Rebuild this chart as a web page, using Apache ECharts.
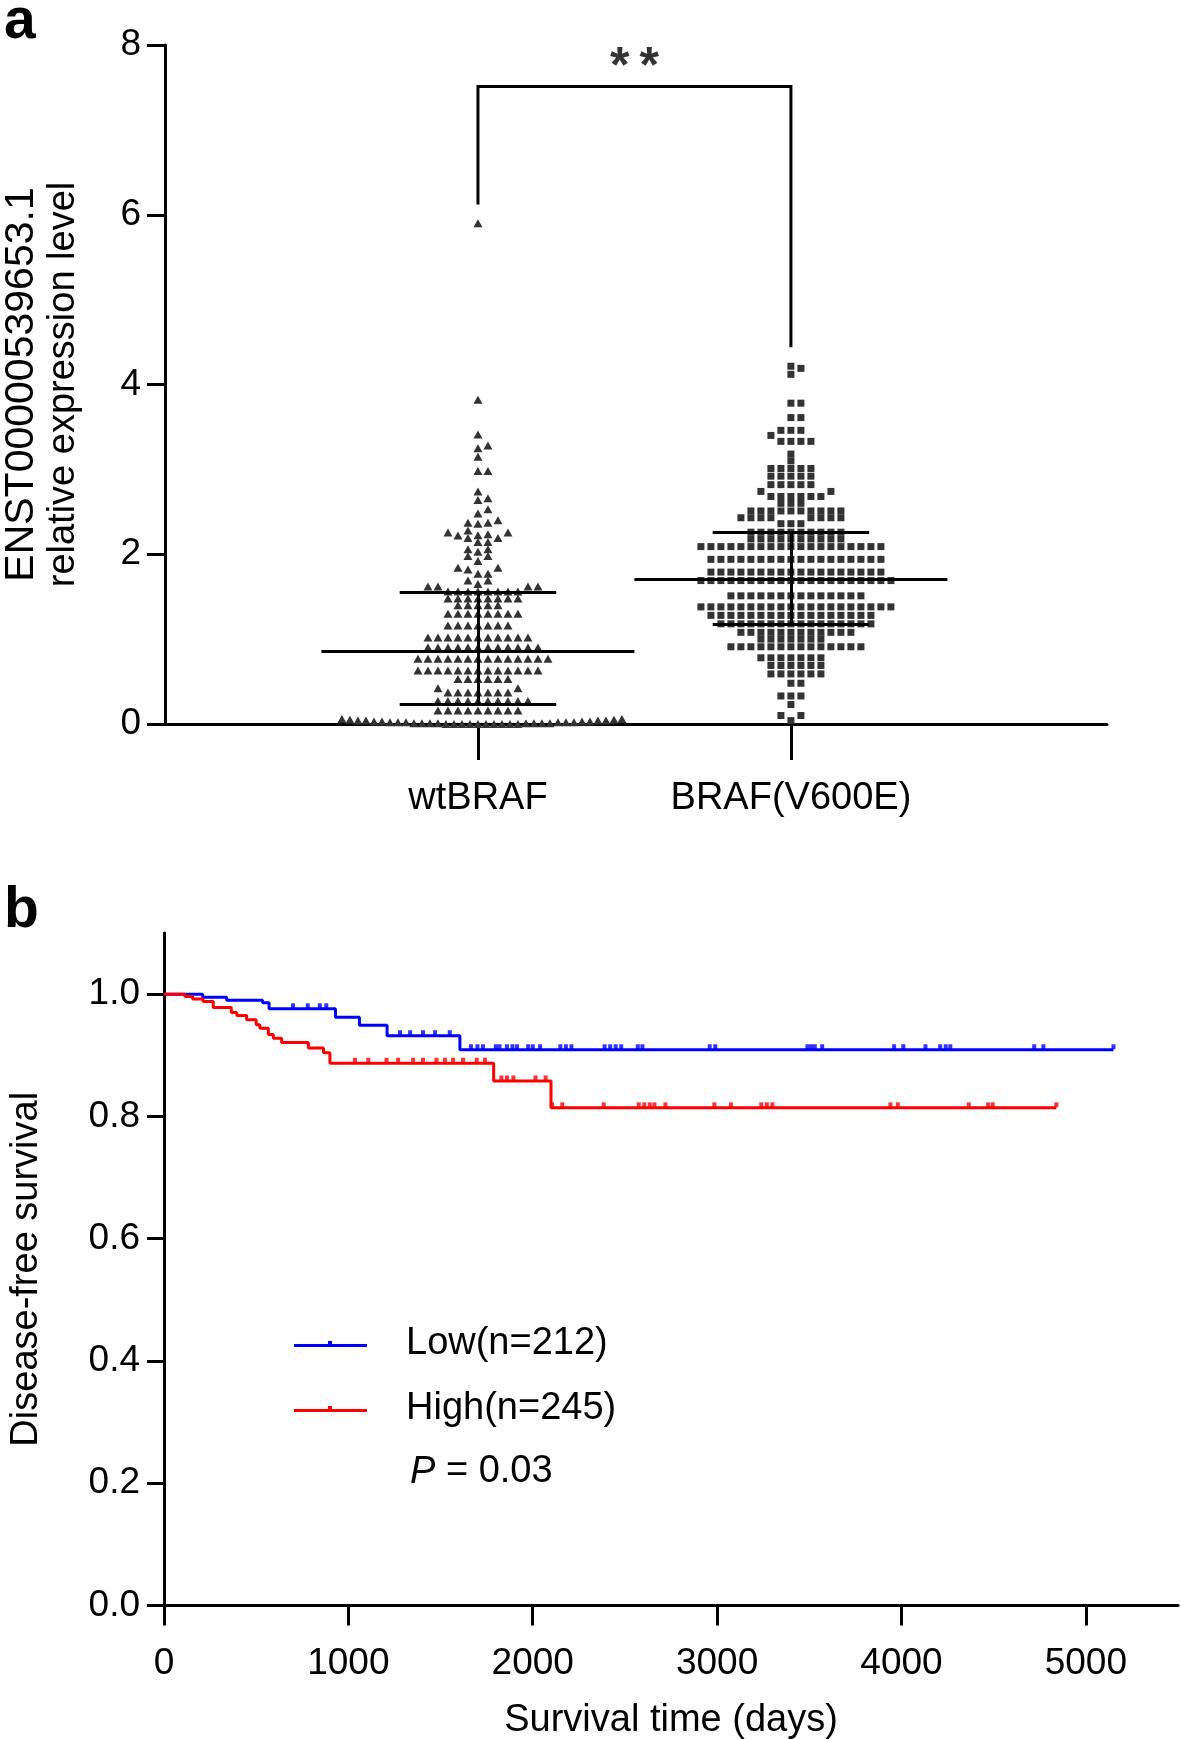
<!DOCTYPE html>
<html>
<head>
<meta charset="utf-8">
<script src="https://cdn.jsdelivr.net/npm/echarts@6/dist/echarts.min.js"></script>
<style>
html,body{margin:0;padding:0;background:#fff;}
#chart{width:1181px;height:1739px;}
</style>
</head>
<body>
<div id="chart"></div>
<script>
// ---------------- Panel a data ----------------
const groups = ['wtBRAF', 'BRAF(V600E)'];
const yTicksA = [0, 2, 4, 6, 8];
const wtValues = [
  0,0,0,0,0,0,0,0,0,0,
  0.01,0.01,0.01,0.01,0.01,0.01,0.01,0.01,
  0.02,0.02,0.02,0.02,0.02,0.02,
  0.03,0.03,0.03,0.03,0.04,0.04,0.04,0.04,0.05,0.05,0.06,0.06,
  0.16,0.16,0.16,0.16,0.16,0.16,0.16,0.16,0.16,
  0.27,0.27,0.27,0.27,0.27,0.27,0.27,0.27,0.27,0.27,
  0.37,0.37,0.37,0.37,0.37,0.37,0.37,0.42,0.42,
  0.53,0.53,0.53,0.53,0.53,0.53,
  0.63,0.63,0.63,0.63,0.63,0.63,0.63,0.63,0.63,0.63,0.63,0.63,0.63,
  0.77,0.77,0.77,0.77,0.77,0.77,0.77,0.77,0.77,0.77,0.77,0.77,0.77,0.77,
  0.90,0.90,0.90,0.90,0.90,0.90,0.90,0.90,0.90,0.90,0.90,0.90,
  1.02,1.02,1.02,1.02,1.02,1.02,1.02,1.02,1.02,1.02,1.02,
  1.16,1.16,1.16,1.16,1.16,1.16,1.16,
  1.30,1.30,1.30,1.30,1.30,1.30,1.30,1.30,
  1.40,1.40,1.40,1.40,1.40,
  1.48,1.48,1.48,1.48,1.48,1.48,1.48,1.48,
  1.56,1.56,1.56,1.56,1.56,1.56,1.56,1.56,
  1.62,1.62,1.62,1.62,1.65,1.69,1.69,
  1.77,1.77,1.82,1.84,1.84,1.92,1.98,1.98,
  2.03,2.06,2.06,2.145,2.145,2.19,2.19,
  2.22,2.225,2.235,2.255,2.255,2.28,
  2.36,2.37,2.37,2.40,2.48,2.53,2.64,2.66,2.74,
  2.98,2.98,3.15,3.25,3.28,3.41,3.82,5.90
];
const brafValues = [
  0.04,0.10,0.10,0.23,0.33,0.33,0.33,0.48,0.48,
  0.59,0.59,0.59,0.59,0.59,0.59,
  0.69,0.69,0.69,0.69,0.69,0.69,
  0.78,0.78,0.78,0.78,0.78,0.78,0.78,
  0.91,0.91,0.91,0.91,0.91,0.91,0.91,0.91,0.91,0.91,0.91,0.91,0.91,0.91,
  1.00,1.00,1.00,1.00,1.00,1.00,1.00,
  1.08,1.08,1.08,1.08,1.08,1.08,1.08,1.08,1.08,1.08,1.08,1.08,
  1.18,1.18,1.18,1.18,1.18,1.18,1.18,1.18,1.18,1.18,1.18,1.18,1.18,1.18,1.18,1.18,
  1.28,1.28,1.28,1.28,1.28,1.28,1.28,1.28,1.28,1.28,1.28,1.28,1.28,1.28,1.28,1.28,1.28,
  1.38,1.38,1.38,1.38,1.38,1.38,1.38,1.38,1.38,1.38,1.38,1.38,1.38,1.38,1.38,1.38,1.38,1.38,1.38,1.38,
  1.51,1.51,1.51,1.51,1.51,1.51,1.51,1.51,1.51,1.51,1.51,1.51,1.51,1.51,
  1.69,1.69,1.69,1.69,1.69,1.69,1.69,1.69,1.69,1.69,1.69,1.69,1.69,1.69,1.69,1.69,1.69,1.69,1.69,1.69,
  1.79,1.79,1.79,1.79,1.79,1.79,1.79,1.79,1.79,1.79,1.79,1.79,1.79,1.79,1.79,1.79,1.79,1.79,
  1.94,1.94,1.94,1.94,1.94,1.94,1.94,1.94,1.94,1.94,1.94,1.94,1.94,1.94,1.94,1.94,1.94,1.94,
  2.09,2.09,2.09,2.09,2.09,2.09,2.09,2.09,2.09,2.09,2.09,2.09,2.09,2.09,2.09,2.09,2.09,2.09,2.09,
  2.18,2.18,2.18,2.18,2.18,2.18,2.18,2.18,2.18,2.18,
  2.26,2.26,2.26,2.26,2.26,2.26,2.26,2.26,2.26,2.26,
  2.36,2.36,2.36,2.43,2.43,2.43,2.43,2.43,2.43,2.43,2.43,
  2.51,2.51,2.51,2.51,2.51,2.51,2.51,2.51,2.51,2.51,
  2.60,2.60,2.60,2.68,2.68,2.68,2.68,2.68,2.68,2.74,2.74,
  2.82,2.82,2.82,2.82,2.82,2.92,2.92,2.92,2.92,2.92,3.01,3.01,3.01,3.01,3.01,
  3.10,3.18,3.33,3.33,3.33,3.33,3.40,3.46,3.46,3.46,3.61,3.61,3.78,3.78,
  4.12,4.19,4.215
];
// summary lines: [lower line, middle line, upper line]
const wtSummary = [0.229, 0.854, 1.558];
const brafSummary = [1.179, 1.707, 2.262];
const bracket = [[1, 6.12], [1, 7.51], [2, 7.51], [2, 4.44]];
const sigLabel = '**';

// ---------------- Panel b data ----------------
const dayTicks = [0, 1000, 2000, 3000, 4000, 5000];
const survTicks = [0, 0.2, 0.4, 0.6, 0.8, 1.0];
const legendNames = ['Low(n=212)', 'High(n=245)'];
const pValue = '0.03';
const lowSteps = [[0,1.0],[210,0.995],[340,0.990],[535,0.986],[570,0.976],[930,0.962],[1060,0.949],[1210,0.932],[1605,0.909],[5150,0.909]];
const highSteps = [[0,1.0],[114,0.996],[155,0.992],[212,0.988],[267,0.978],[365,0.970],[395,0.965],[448,0.958],[500,0.950],[520,0.944],[566,0.934],[593,0.928],[638,0.921],[783,0.912],[865,0.904],[900,0.887],[1788,0.858],[2099,0.814],[4840,0.814]];
const lowCensor = [700,780,845,880,1280,1335,1405,1470,1550,1665,1700,1730,1800,1820,1860,1890,1915,1975,2000,2040,2150,2180,2210,2390,2420,2450,2480,2570,2595,2960,2990,3490,3510,3530,3570,3960,4010,4130,4210,4240,4265,4720,4770,5150];
const highCensor = [1036,1108,1207,1270,1351,1405,1478,1524,1568,1622,1696,1741,1830,1860,1895,2015,2070,2105,2160,2385,2575,2605,2635,2660,2720,2985,3075,3240,3270,3300,3940,3980,4365,4470,4495,4840];

// ---------------- layout / style constants ----------------
const FONT = '"Liberation Sans", Arial, Helvetica, sans-serif';
const GA = {left:165, top:45, width:942, height:679};
const XA_MAX = 3.01, YA_MAX = 8;
const GB = {left:164, top:933, width:1014, height:672.5};
const XB_MAX = 5500, YB_MAX = 1.1;
const MED_HALF = 0.5, IQR_HALF = 0.25;
const SWARM_MAX_HALF = 144;  // px, widest a row of points may spread
const AX = {color:'#000', width:3};
const PT_COLOR = '#333333';

// beeswarm layout: each value keeps its y; x offset is the nearest free slot
function swarm(values, center, symW, symH, pxX, pxY) {
  const sorted = values.slice().sort((a, b) => a - b);
  const placed = [];
  sorted.forEach(v => {
    const py = v * pxY;
    let px = 0;
    for (let i = 0; i < 600; i++) {
      const k = Math.ceil(i / 2);
      const cand = (i % 2 === 1 ? 1 : -1) * k * symW / 2;
      const hit = placed.some(p => Math.abs(p[1] - py) < symH && Math.abs(p[0] - cand) < symW - 1e-6);
      if (!hit) { px = cand; break; }
    }
    placed.push([px, py, v]);
  });
  // squeeze any band that is wider than the column
  let start = 0;
  for (let i = 1; i <= placed.length; i++) {
    if (i === placed.length || placed[i][1] - placed[start][1] >= symH) {
      const band = placed.slice(start, i);
      const w = Math.max.apply(null, band.map(p => Math.abs(p[0])));
      if (w > SWARM_MAX_HALF) band.forEach(p => { p[0] *= SWARM_MAX_HALF / w; });
      start = i;
    }
  }
  return placed.map(p => [center + p[0] / pxX, p[2]]);
}
function summarySegments(stats, c) {
  const [lo, mid, hi] = stats;
  return [
    {coords: [[c - MED_HALF, mid], [c + MED_HALF, mid]]},
    {coords: [[c - IQR_HALF, lo], [c + IQR_HALF, lo]]},
    {coords: [[c - IQR_HALF, hi], [c + IQR_HALF, hi]]},
    {coords: [[c, lo], [c, hi]]}
  ];
}
function stepAt(steps, t) {
  let s = steps[0][1];
  for (const p of steps) { if (p[0] <= t) s = p[1]; }
  return s;
}

const pxXA = GA.width / XA_MAX, pxYA = GA.height / YA_MAX;
const wtPoints = swarm(wtValues, 1, 10, 6.5, pxXA, pxYA);
const brafPoints = swarm(brafValues, 2, 10, 6.5, pxXA, pxYA);

const ICON = 'path://M0,4L73,4L73,7L0,7Z M34,1L38,1L38,4L34,4Z';
const legendBase = {
  orient:'horizontal', itemWidth:73, itemHeight:7, icon:ICON, padding:0,
  selectedMode:false, left:294,
  textStyle:{fontSize:38, color:'#000', fontFamily:FONT, padding:[0,0,0,34]}
};

const chart = echarts.init(document.getElementById('chart'), null, {renderer:'canvas'});
const option = {
  animation:false,
  backgroundColor:'#ffffff',
  textStyle:{fontFamily:FONT, color:'#000'},
  grid:[
    Object.assign({outerBoundsMode:'none', containLabel:false}, GA),
    Object.assign({outerBoundsMode:'none', containLabel:false}, GB)
  ],
  xAxis:[
    {gridIndex:0, type:'value', min:0, max:XA_MAX,
     axisLine:{show:true, onZero:true, lineStyle:AX},
     axisTick:{show:true, customValues:[1,2], length:36, inside:false, lineStyle:AX},
     axisLabel:{show:true, customValues:[1,2], formatter:v => groups[Math.round(v) - 1] || '', fontSize:38, color:'#000', fontFamily:FONT, margin:56},
     splitLine:{show:false}},
    {gridIndex:1, type:'value', min:0, max:XB_MAX,
     axisLine:{show:true, onZero:true, lineStyle:AX},
     axisTick:{show:true, customValues:dayTicks, length:20, lineStyle:AX},
     axisLabel:{show:true, customValues:dayTicks, formatter:v => String(v), fontSize:37, color:'#000', fontFamily:FONT, margin:40},
     splitLine:{show:false},
     name:'Survival time (days)', nameLocation:'middle', nameGap:96, nameMoveOverlap:false,
     nameTextStyle:{fontSize:38, color:'#000', fontFamily:FONT}}
  ],
  yAxis:[
    {gridIndex:0, type:'value', min:0, max:YA_MAX,
     axisLine:{show:true, onZero:true, lineStyle:AX},
     axisTick:{show:true, customValues:yTicksA, length:18, lineStyle:AX},
     axisLabel:{show:true, customValues:yTicksA, fontSize:37, color:'#000', fontFamily:FONT, margin:24},
     splitLine:{show:false},
     name:'{a|ENST00000539653.1}\n{b|relative expression level}', nameLocation:'middle', nameGap:80, nameRotate:90, nameMoveOverlap:false,
     nameTextStyle:{fontSize:38, lineHeight:42, color:'#000', fontFamily:FONT, align:'center',
       rich:{a:{fontSize:41, lineHeight:42, fontFamily:FONT, color:'#000'}, b:{fontSize:38, lineHeight:42, fontFamily:FONT, color:'#000'}}}},
    {gridIndex:1, type:'value', min:0, max:YB_MAX,
     axisLine:{show:true, onZero:true, lineStyle:AX},
     axisTick:{show:true, customValues:survTicks, length:17, lineStyle:AX},
     axisLabel:{show:true, customValues:survTicks, formatter:v => Number(v).toFixed(1), fontSize:37, color:'#000', fontFamily:FONT, margin:24},
     splitLine:{show:false},
     name:'Disease-free survival', nameLocation:'middle', nameGap:118, nameRotate:90, nameMoveOverlap:false,
     nameTextStyle:{fontSize:38, color:'#000', fontFamily:FONT}}
  ],
  legend:[
    Object.assign({}, legendBase, {data:[legendNames[0]], top:1325}),
    Object.assign({}, legendBase, {data:[legendNames[1]], top:1390})
  ],
  graphic:[
    {type:'text', style:{text:'a', x:4, y:22, verticalAlign:'middle', fontSize:57, fontWeight:'bold', fontFamily:FONT, fill:'#000'}},
    {type:'text', style:{text:'b', x:4, y:911, verticalAlign:'middle', fontSize:57, fontWeight:'bold', fontFamily:FONT, fill:'#000'}},
    {type:'text', style:{text:'{i|P} = ' + pValue, x:410, y:1472, verticalAlign:'middle', fontSize:38, fontFamily:FONT, fill:'#000',
      rich:{i:{fontStyle:'italic', fontSize:38, fontFamily:FONT, fill:'#000'}}}}
  ],
  series:[
    {type:'scatter', name:'wt', xAxisIndex:0, yAxisIndex:0, symbol:'triangle', symbolSize:[9,8],
     itemStyle:{color:PT_COLOR, opacity:1}, data:wtPoints, z:2, silent:true},
    {type:'scatter', name:'braf', xAxisIndex:0, yAxisIndex:0, symbol:'rect', symbolSize:[7,7],
     itemStyle:{color:PT_COLOR, opacity:1}, data:brafPoints, z:2, silent:true},
    {type:'lines', coordinateSystem:'cartesian2d', xAxisIndex:0, yAxisIndex:0, polyline:false,
     lineStyle:{color:'#000', width:3, opacity:1, curveness:0}, effect:{show:false}, silent:true, z:4,
     data:summarySegments(wtSummary, 1).concat(summarySegments(brafSummary, 2))},
    {type:'lines', coordinateSystem:'cartesian2d', xAxisIndex:0, yAxisIndex:0, polyline:true,
     lineStyle:{color:'#000', width:3, opacity:1, curveness:0}, effect:{show:false}, silent:true, z:4,
     data:[{coords:bracket}]},
    {type:'scatter', name:'sig', xAxisIndex:0, yAxisIndex:0, symbolSize:1, itemStyle:{color:'rgba(0,0,0,0)'},
     silent:true, z:4,
     data:[[(bracket[1][0] + bracket[2][0]) / 2, bracket[1][1]]],
     label:{show:true, position:'top', distance:-7, formatter:sigLabel.split('').join('\u2009'), fontSize:50, fontWeight:'bold', color:'#000', fontFamily:FONT}},
    {type:'line', name:legendNames[0], xAxisIndex:1, yAxisIndex:1, step:'end', showSymbol:false, symbol:'none',
     color:'#0000ff', lineStyle:{color:'#0000ff', width:3}, itemStyle:{color:'#0000ff'}, data:lowSteps, z:3, silent:true},
    {type:'line', name:legendNames[1], xAxisIndex:1, yAxisIndex:1, step:'end', showSymbol:false, symbol:'none',
     color:'#ff0000', lineStyle:{color:'#ff0000', width:3}, itemStyle:{color:'#ff0000'}, data:highSteps, z:3, silent:true},
    {type:'scatter', name:'lowCensor', xAxisIndex:1, yAxisIndex:1, symbol:'rect', symbolSize:[4,5], symbolOffset:[0,-3],
     itemStyle:{color:'#0000ff'}, data:lowCensor.map(d => [d, stepAt(lowSteps, d)]), z:3, silent:true},
    {type:'scatter', name:'highCensor', xAxisIndex:1, yAxisIndex:1, symbol:'rect', symbolSize:[4,5], symbolOffset:[0,-3],
     itemStyle:{color:'#ff0000'}, data:highCensor.map(d => [d, stepAt(highSteps, d)]), z:3, silent:true}
  ]
};
chart.setOption(option);
</script>
</body>
</html>
